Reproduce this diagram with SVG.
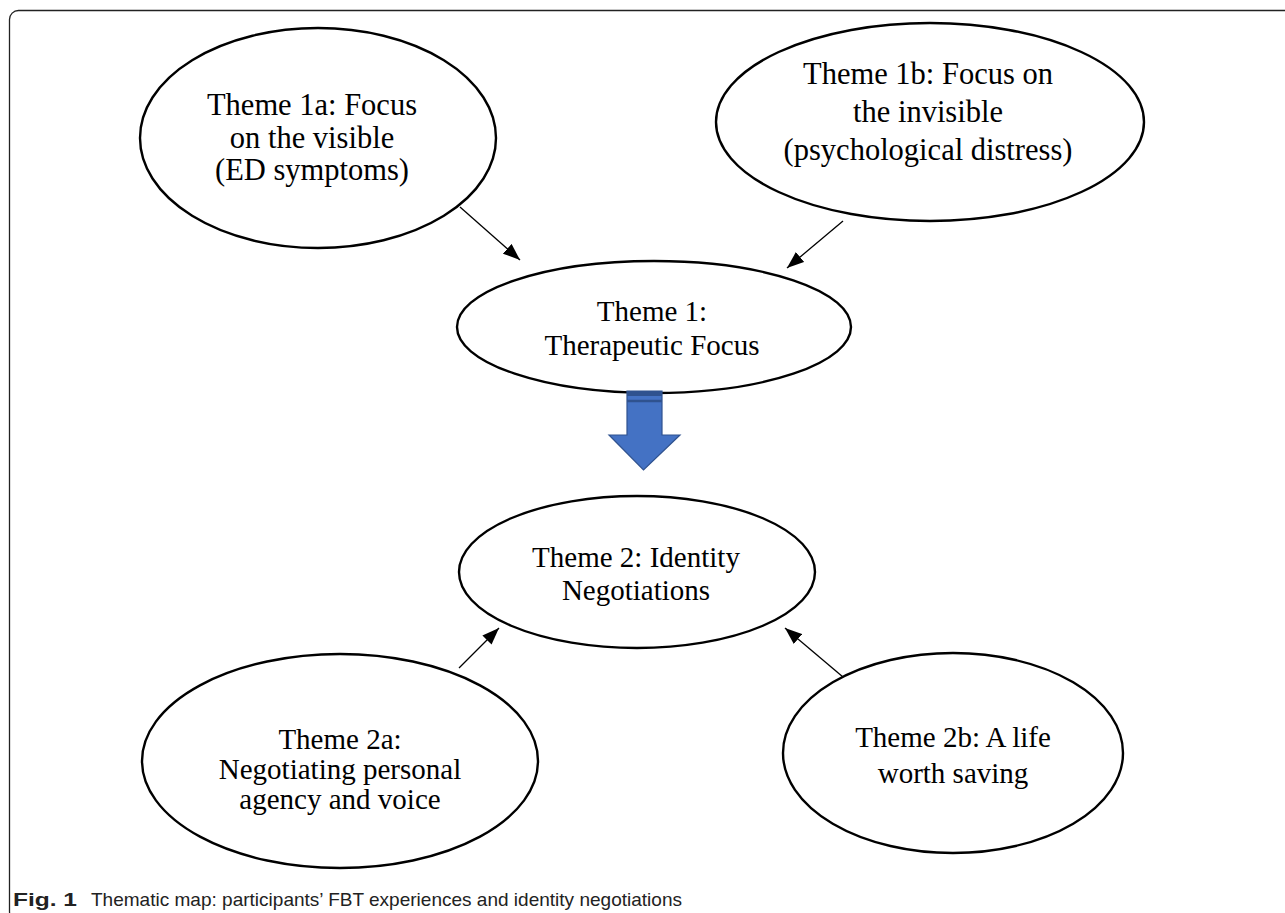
<svg xmlns="http://www.w3.org/2000/svg" width="1285" height="913" viewBox="0 0 1285 913">
<style>
.node ellipse{fill:#fff;stroke:#000;stroke-width:2.4}
.lbl{font-family:"Liberation Serif","Times New Roman",serif;font-size:29px;fill:#000;text-anchor:middle}
.big{font-size:30.5px}
.conn line{stroke:#000;stroke-width:1.3;marker-end:url(#ah)}
.cap{font-family:"Liberation Sans",Arial,sans-serif;font-size:19px;fill:#222}
</style>
<defs>
<marker id="ah" markerUnits="userSpaceOnUse" viewBox="0 0 17 13" refX="17" refY="6.5" markerWidth="17" markerHeight="13" orient="auto">
<path d="M0,0 L17,6.5 L0,13 z" fill="#000"/>
</marker>
</defs>
<rect x="0" y="0" width="1285" height="913" fill="#fff"/>
<rect x="9.5" y="10.5" width="1300" height="910" rx="9" fill="none" stroke="#222" stroke-width="1.3"/>

<g id="theme1a" class="node">
<ellipse cx="318" cy="138" rx="178" ry="110"/>
<text class="lbl big" x="312" y="115">Theme 1a: Focus</text>
<text class="lbl big" x="312" y="148">on the visible</text>
<text class="lbl big" x="312" y="180">(ED symptoms)</text>
</g>

<g id="theme1b" class="node">
<ellipse cx="930" cy="122" rx="214" ry="99"/>
<text class="lbl big" x="928" y="84">Theme 1b: Focus on</text>
<text class="lbl big" x="928" y="122">the invisible</text>
<text class="lbl big" x="928" y="160">(psychological distress)</text>
</g>

<g id="theme1" class="node">
<ellipse cx="654" cy="327" rx="197" ry="66"/>
<text class="lbl" x="652" y="321">Theme 1:</text>
<text class="lbl" x="652" y="355">Therapeutic Focus</text>
</g>

<g id="bigarrow">
<polygon points="627,391 662,391 662,435 680,435 643.5,470 609,435 627,435" fill="#4472C4" stroke="#2F528F" stroke-width="1.2"/>
<rect x="627" y="391" width="35" height="5" fill="#2F528F"/>
<line x1="627" y1="401" x2="662" y2="401" stroke="#2F528F" stroke-width="2.5"/>
</g>

<g id="theme2" class="node">
<ellipse cx="637" cy="572" rx="178" ry="76"/>
<text class="lbl" x="636" y="567">Theme 2: Identity</text>
<text class="lbl" x="636" y="600">Negotiations</text>
</g>

<g id="theme2a" class="node">
<ellipse cx="340" cy="761" rx="198" ry="107"/>
<text class="lbl" x="340" y="749">Theme 2a:</text>
<text class="lbl" x="340" y="779">Negotiating personal</text>
<text class="lbl" x="340" y="809">agency and voice</text>
</g>

<g id="theme2b" class="node">
<ellipse cx="953" cy="753" rx="170" ry="100"/>
<text class="lbl" x="953" y="747">Theme 2b: A life</text>
<text class="lbl" x="953" y="783">worth saving</text>
</g>

<g id="connectors" class="conn">
<line x1="460" y1="207" x2="520" y2="260"/>
<line x1="843" y1="221" x2="787" y2="268"/>
<line x1="459" y1="668" x2="499" y2="628"/>
<line x1="843" y1="677" x2="785" y2="628"/>
</g>

<g id="caption">
<text class="cap" x="13" y="906" font-weight="bold" textLength="64" lengthAdjust="spacingAndGlyphs">Fig. 1</text>
<text class="cap" x="91" y="906" textLength="591" lengthAdjust="spacingAndGlyphs">Thematic map: participants’ FBT experiences and identity negotiations</text>
</g>
</svg>
